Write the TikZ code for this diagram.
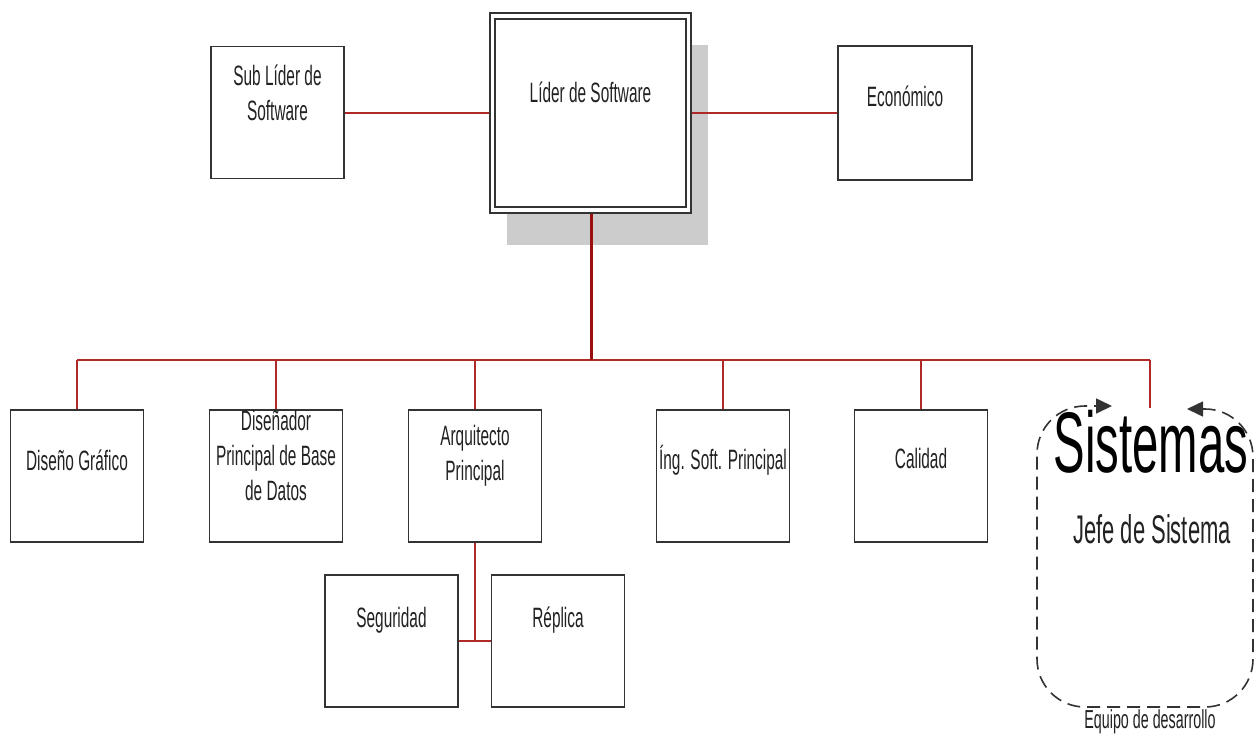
\documentclass[tikz,border=0pt]{standalone}
\usepackage{fontspec}
\setmainfont{Liberation Sans}[FakeStretch=0.55]
\usetikzlibrary{arrows.meta}
\definecolor{conred}{HTML}{B02828}
\definecolor{darkred}{HTML}{9A1010}
\definecolor{boxline}{HTML}{333333}
\definecolor{shadowgray}{HTML}{CCCCCC}
\definecolor{txt}{HTML}{222222}
\tikzset{
  box/.style={draw=boxline, line width=1.8pt, fill=white, inner sep=0pt, minimum width=133pt, minimum height=132pt},
  lbl/.style={text=txt, inner sep=0pt, align=center, font=\fontsize{28}{35}\selectfont},
  conn/.style={draw=conred, line width=2pt},
  mainconn/.style={draw=darkred, line width=3pt},
  frame/.style={draw=black!80, line width=1.6pt, dash pattern=on 13pt off 7pt, rounded corners=48pt},
}
\begin{document}
\begin{tikzpicture}[x=1pt,y=-1pt]
\useasboundingbox (0,0) rectangle (1255,737);
\fill[white] (0,0) rectangle (1255,737);
% shadow of leader
\fill[shadowgray] (507,45) rectangle (708,245);
% top row
\node[box] (sub) at (277.5,112.5) {};
\node[box, minimum width=201pt, minimum height=200pt, line width=2.2pt] (lider) at (590.5,113) {};
\node[draw=boxline, line width=2.2pt, minimum width=191pt, minimum height=188pt, inner sep=0pt] (liderin) at (590.5,113) {};
\node[box, minimum width=134pt, minimum height=134pt] (eco) at (905,113) {};
% second row
\node[box] (dg) at (77,476) {};
\node[box] (dis) at (276,476) {};
\node[box] (arq) at (475,476) {};
\node[box] (ing) at (723,476) {};
\node[box] (cal) at (921,476) {};
% third row
\node[box] (seg) at (391.5,641) {};
\node[box] (rep) at (558,641) {};
% Sistemas container
\coordinate (sysTop) at (1150,408);
\draw[frame, {Triangle[length=16pt,width=15pt]}-{Triangle[length=16pt,width=15pt]}]
  (1187,409) -- (1253,409) -- (1253,707) -- (1037,707) -- (1037,406) -- (1112,406);
% labels
\node[lbl] (subT) at (277.5,93) {Sub Líder de\\Software};
\node[lbl] (liderT) at (590.5,92) {Líder de Software};
\node[lbl] (ecoT) at (905,96) {Económico};
\node[lbl] (dgT) at (77,460) {Diseño Gráfico};
\node[lbl] (disT) at (276,455) {Diseñador\\Principal de Base\\de Datos};
\node[lbl] (arqT) at (475,456) {Arquitecto\\Principal};
\node[lbl] (ingT) at (723,460) {Íng. Soft. Principal};
\node[lbl] (calT) at (921,458) {Calidad};
\node[lbl] (segT) at (391.5,620) {Seguridad};
\node[lbl] (repT) at (558,620) {Réplica};
\node[lbl, font=\fontsize{86}{90}\selectfont, text=black] (sisT) at (1151,442) {Sistemas};
\node[lbl, font=\fontsize{40}{44}\selectfont] (jefeT) at (1152,529) {Jefe de Sistema};
\node[lbl, font=\fontsize{26}{30}\selectfont] (eqT) at (1150,722) {Equipo de desarrollo};
% connectors
\draw[conn] (lider.west) -- (lider.west -| sub.east);
\draw[conn] (lider.east) -- (eco.west);
\coordinate (bus) at (591,360);
\coordinate (busL) at (77,360);
\coordinate (busR) at (1150,360);
\draw[conn] (busL) -- (busR);
\draw[mainconn] (lider.south -| bus) -- (bus);
\draw[conn] (dg.north |- bus) -- (dg.north);
\draw[conn] (dis.north |- bus) -- (dis.north);
\draw[conn] (arq.north |- bus) -- (arq.north);
\draw[conn] (ing.north |- bus) -- (ing.north);
\draw[conn] (cal.north |- bus) -- (cal.north);
\draw[conn] (busR) -- (sysTop);
\coordinate (arqJ) at (475,641);
\draw[conn] (arq.south) -- (arqJ);
\draw[conn] (seg.east) -- (rep.west);
\end{tikzpicture}
\end{document}
